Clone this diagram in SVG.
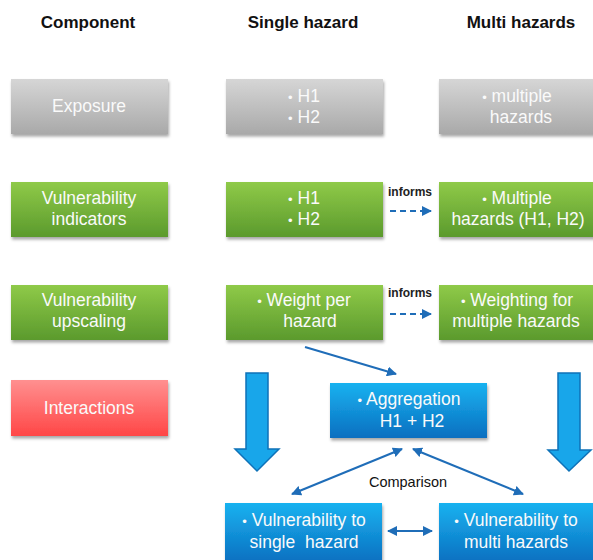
<svg xmlns="http://www.w3.org/2000/svg" width="593" height="560" viewBox="0 0 593 560">
<style>
.hd{font-family:"Liberation Sans",Arial,sans-serif;font-weight:bold;font-size:17px;fill:#111;text-anchor:middle}
.bt{font-family:"Liberation Sans",Arial,sans-serif;font-size:17.5px;fill:#fafafa;text-anchor:middle}
.b{font-size:13px}
.sm{font-family:"Liberation Sans",Arial,sans-serif;font-weight:bold;font-size:12px;fill:#222;text-anchor:middle}
.cm{font-family:"Liberation Sans",Arial,sans-serif;font-size:14.5px;fill:#111;text-anchor:middle}
.ln{stroke:#1f6db8;stroke-width:2;fill:none}
.ds{stroke:#1f6db8;stroke-width:2;fill:none;stroke-dasharray:6 4}
.big{fill:#18a6ea;stroke:#0e72b8;stroke-width:1.5}
</style>
<defs>
<linearGradient id="gGray" x1="0" y1="0" x2="0" y2="1"><stop offset="0" stop-color="#d6d6d6"/><stop offset="1" stop-color="#a9a9a9"/></linearGradient>
<linearGradient id="gGreen" x1="0" y1="0" x2="0" y2="1"><stop offset="0" stop-color="#8fca48"/><stop offset="1" stop-color="#5b9a2d"/></linearGradient>
<linearGradient id="gRed" x1="0" y1="0" x2="0" y2="1"><stop offset="0" stop-color="#ff9090"/><stop offset="1" stop-color="#ff4646"/></linearGradient>
<linearGradient id="gBlue" x1="0" y1="0" x2="0" y2="1"><stop offset="0" stop-color="#18b2f0"/><stop offset="1" stop-color="#0b6fc0"/></linearGradient>
<filter id="sh" x="-10%" y="-10%" width="125%" height="135%"><feDropShadow dx="1" dy="2.5" stdDeviation="1.5" flood-color="#000" flood-opacity="0.35"/></filter>
<marker id="ah" viewBox="0 0 10 10" refX="9" refY="5" markerWidth="5" markerHeight="5" orient="auto-start-reverse"><path d="M0,0 L10,5 L0,10 z" fill="#1f6db8"/></marker>
</defs>

<g id="headers">
<text class="hd" x="88" y="28">Component</text>
<text class="hd" x="303" y="28">Single hazard</text>
<text class="hd" x="521" y="28">Multi hazards</text>
</g>

<g id="exposure"><rect x="11" y="79" width="157" height="55" fill="url(#gGray)" filter="url(#sh)"/><text class="bt" x="89" y="112">Exposure</text></g>
<g id="exposure-single"><rect x="226" y="79" width="157" height="55" fill="url(#gGray)" filter="url(#sh)"/><text class="bt" x="304" y="102"><tspan class="b">•</tspan> H1</text><text class="bt" x="304" y="123"><tspan class="b">•</tspan> H2</text></g>
<g id="exposure-multi"><rect x="439" y="79" width="160" height="55" fill="url(#gGray)" filter="url(#sh)"/><text class="bt" x="517" y="102"><tspan class="b">•</tspan> multiple</text><text class="bt" x="521" y="123">hazards</text></g>

<g id="vuln-ind"><rect x="11" y="182" width="157" height="55" fill="url(#gGreen)" filter="url(#sh)"/><text class="bt" x="89" y="204">Vulnerability</text><text class="bt" x="89" y="225">indicators</text></g>
<g id="vuln-ind-single"><rect x="226" y="182" width="157" height="55" fill="url(#gGreen)" filter="url(#sh)"/><text class="bt" x="304" y="204"><tspan class="b">•</tspan> H1</text><text class="bt" x="304" y="225"><tspan class="b">•</tspan> H2</text></g>
<g id="vuln-ind-multi"><rect x="439" y="182" width="160" height="55" fill="url(#gGreen)" filter="url(#sh)"/><text class="bt" x="517" y="204"><tspan class="b">•</tspan> Multiple</text><text class="bt" x="518" y="225">hazards (H1, H2)</text></g>

<g id="vuln-up"><rect x="11" y="285" width="157" height="55" fill="url(#gGreen)" filter="url(#sh)"/><text class="bt" x="89" y="306">Vulnerability</text><text class="bt" x="89" y="327">upscaling</text></g>
<g id="vuln-up-single"><rect x="226" y="285" width="157" height="55" fill="url(#gGreen)" filter="url(#sh)"/><text class="bt" x="304" y="306"><tspan class="b">•</tspan> Weight per</text><text class="bt" x="310" y="327">hazard</text></g>
<g id="vuln-up-multi"><rect x="439" y="285" width="160" height="55" fill="url(#gGreen)" filter="url(#sh)"/><text class="bt" x="517" y="306"><tspan class="b">•</tspan> Weighting for</text><text class="bt" x="516" y="327">multiple hazards</text></g>

<g id="interactions"><rect x="11" y="380" width="157" height="56" fill="url(#gRed)" filter="url(#sh)"/><text class="bt" x="89" y="414">Interactions</text></g>
<g id="aggregation"><rect x="330" y="383" width="157" height="55" fill="url(#gBlue)" filter="url(#sh)"/><text class="bt" x="409" y="405"><tspan class="b">•</tspan> Aggregation</text><text class="bt" x="412" y="427">H1 + H2</text></g>

<g id="vuln-single"><rect x="225" y="503" width="157" height="60" fill="url(#gBlue)" filter="url(#sh)"/><text class="bt" x="304" y="526"><tspan class="b">•</tspan> Vulnerability to</text><text class="bt" x="304" y="548" xml:space="preserve">single  hazard</text></g>
<g id="vuln-multi"><rect x="439" y="503" width="160" height="60" fill="url(#gBlue)" filter="url(#sh)"/><text class="bt" x="516" y="526"><tspan class="b">•</tspan> Vulnerability to</text><text class="bt" x="516" y="548">multi hazards</text></g>

<g id="connectors">
<path class="big" d="M246,373 H268 V449 H279 L257,471 L235,449 H246 Z"/>
<path class="big" d="M558,373 H580 V450 H591 L569,471 L548,450 H558 Z"/>
<text class="sm" x="410" y="196">informs</text>
<line class="ds" x1="390" y1="211" x2="431" y2="211" marker-end="url(#ah)"/>
<text class="sm" x="410" y="297">informs</text>
<line class="ds" x1="390" y1="314" x2="431" y2="314" marker-end="url(#ah)"/>
<line class="ln" x1="305" y1="347" x2="396" y2="374" marker-end="url(#ah)"/>
<line class="ln" x1="292" y1="494" x2="402" y2="449" marker-start="url(#ah)" marker-end="url(#ah)"/>
<line class="ln" x1="413" y1="449" x2="523" y2="494" marker-start="url(#ah)" marker-end="url(#ah)"/>
<line class="ln" x1="388" y1="531" x2="432" y2="531" marker-start="url(#ah)" marker-end="url(#ah)"/>
<text class="cm" x="408" y="487">Comparison</text>
</g>
</svg>
